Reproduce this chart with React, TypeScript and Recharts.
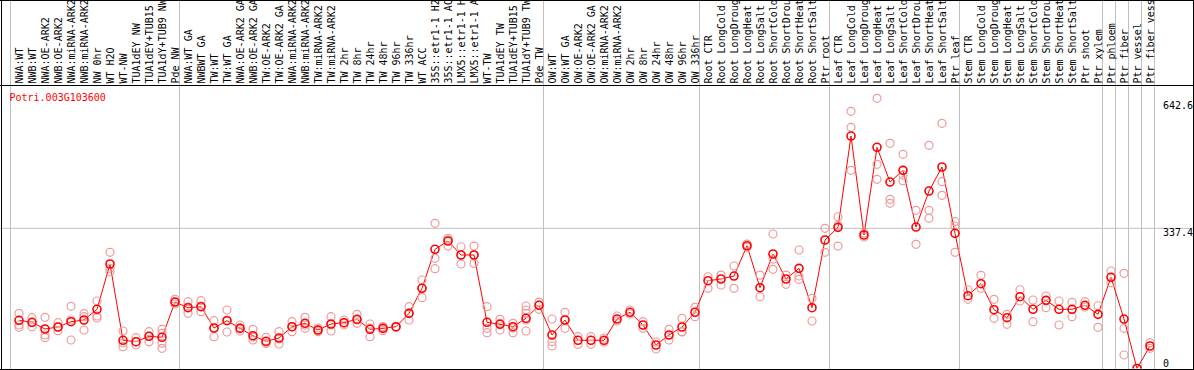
import React from "react";
import { ComposedChart, Line, Scatter, XAxis, YAxis, ReferenceLine } from "recharts";

const categories = [
  "NWA:WT", "NWB:WT", "NWA:OE-ARK2", "NWB:OE-ARK2", "NWA:miRNA-ARK2", "NWB:miRNA-ARK2", "NW 0hr", "WT H2O", "WT-NW",
  "TUA1dEY NW", "TUA1dEY+TUB15", "TUA1dY+TUB9 NW", "Pde NW",
  "NWA:WT GA", "NWBWT GA", "TW:WT", "TW:WT GA", "NWA:OE-ARK2 GA", "NWB:OE-ARK2 GA", "TW:OE-ARK2", "TW:OE-ARK2 GA",
  "NWA:miRNA-ARK2", "NWB:miRNA-ARK2", "TW:miRNA-ARK2", "TW:miRNA-ARK2", "TW 2hr", "TW 8hr", "TW 24hr", "TW 48hr",
  "TW 96hr", "TW 336hr", "WT ACC", "35S::etr1-1 H2O", "35S::etr1-1 ACC", "LMX5::etr1-1 H2O", "LMX5::etr1-1 ACC",
  "WT-TW", "TUA1dEY TW", "TUA1dEY+TUB15", "TUA1dY+TUB9 TW", "Pde TW",
  "OW:WT", "OW:WT GA", "OW:OE-ARK2", "OW:OE-ARK2 GA", "OW:miRNA-ARK2", "OW:miRNA-ARK2", "OW 2hr", "OW 8hr",
  "OW 24hr", "OW 48hr", "OW 96hr", "OW 336hr",
  "Root CTR", "Root LongCold", "Root LongDrought", "Root LongHeat", "Root LongSalt", "Root ShortCold",
  "Root ShortDrought", "Root ShortHeat", "Root ShortSalt", "Ptr root",
  "Leaf CTR", "Leaf LongCold", "Leaf LongDrought", "Leaf LongHeat", "Leaf LongSalt", "Leaf ShortCold",
  "Leaf ShortDrought", "Leaf ShortHeat", "Leaf ShortSalt", "Ptr leaf",
  "Stem CTR", "Stem LongCold", "Stem LongDrought", "Stem LongHeat", "Stem LongSalt", "Stem ShortCold",
  "Stem ShortDrought", "Stem ShortHeat", "Stem ShortSalt", "Ptr shoot",
  "Ptr xylem", "Ptr phloem", "Ptr fiber", "Ptr vessel", "Ptr fiber vessel",
];

const meanValues = [
  116.0, 111.2, 95.1, 99.9, 112.6, 116.7, 142.5, 251.5, 67.9, 64.5, 77.5, 75.1, 160.0,
  146.3, 148.7, 97.5, 115.0, 96.7, 78.9, 65.5, 73.4, 100.6, 108.8, 92.7, 107.1, 110.2, 118.4, 94.3, 96.7,
  100.6, 132.8, 193.0, 286.9, 306.9, 273.2, 273.2, 111.2, 106.4, 100.6, 120.8, 152.1,
  80.6, 116.7, 67.9, 67.9, 67.9, 119.1, 135.3, 104.7, 56.6, 80.6, 99.9, 135.3,
  211.3, 215.4, 222.6, 295.5, 194.5, 275.6, 215.4, 241.1, 146.3, 309.3,
  339.8, 559.6, 321.3, 532.4, 448.8, 477.0, 340.5, 427.2, 485.0, 325.4,
  175.2, 204.1, 141.5, 122.3, 172.8, 142.5, 164.1, 142.5, 142.5, 152.1,
  130.4, 219.5, 119.1, 0, 54.2,
];

const replicateValues: number[][] = [
  [132.7, 104.7, 99.2], [122.3, 110.2, 100.6], [123.2, 80.6, 74.1], [110.2, 91.0, 99.9], [149.7, 68.6, 116.7],
  [131.9, 92.7, 124.7], [162.5, 126.4, 121.5], [279.7, 241.1, 233.0], [90.3, 52.5, 61.4], [74.1, 56.6, 64.5],
  [88.6, 64.5, 77.5], [94.3, 84.7, 60.6, 48.6], [166.5, 155.2, 160.0],
  [160.8, 132.8, 148.0], [163.2, 136.7, 150.4], [115.0, 76.5, 97.5], [140.8, 87.8, 116.7], [104.7, 90.3, 97.5],
  [94.3, 68.6, 75.8], [75.1, 60.6, 61.0], [88.6, 59.0, 71.0], [112.6, 88.6, 99.9], [123.2, 96.7, 104.7],
  [97.5, 88.6, 92.7], [124.7, 90.3, 104.7], [116.7, 104.7, 109.5], [130.4, 108.8, 116.7], [107.1, 76.5, 97.5],
  [101.0, 91.0, 97.5], [100.6, 98.7], [148.7, 116.7, 133.6], [213.0, 170.4, 193.7], [349.5, 265.2, 240.2],
  [313.4, 294.8, 309.3], [293.1, 251.5, 273.2], [294.8, 253.2, 273.2], [148.7, 96.7, 86.2], [118.4, 92.7, 109.5],
  [108.8, 86.2, 97.5], [150.4, 140.8, 132.4, 116.7, 90.3], [160.0, 142.5, 152.8],
  [119.1, 64.5, 54.2], [135.3, 96.7, 116.7], [76.5, 58.2], [76.5, 58.2], [73.4, 63.8], [126.4, 114.3],
  [140.8, 131.2], [112.6, 96.7], [63.8, 46.9], [94.3, 68.6], [120.8, 88.6, 87.8], [147.3, 124.7],
  [220.9, 193.0], [225.0, 201.0], [246.7, 193.0], [299.6, 292.4], [225.0, 172.8], [323.7, 238.7, 263.5],
  [225.0, 202.6], [285.2, 222.6, 214.7], [169.0, 114.3], [337.4, 279.7],
  [365.3, 294.8, 345.0], [619.0, 580.5, 477.0], [326.0, 316.5], [650.3, 491.4, 455.3], [542.0, 407.2, 397.6],
  [515.5, 452.0, 465.7], [380.7, 298.9], [537.2, 380.7, 361.5], [590.1, 449.6, 416.8], [353.3, 343.0, 279.7],
  [188.9, 166.5], [224.3, 193.0], [166.5, 120.8], [130.4, 106.4], [189.6, 162.5], [164.9, 112.6],
  [174.5, 146.3], [162.5, 104.7], [159.3, 124.7], [160.8, 148.0],
  [151.1, 99.2], [234.7, 206.5], [229.1, 96.7, 32.5], [0], [62.1, 48.6],
];

const groupBoundaries = [0, 13, 41, 53, 63, 73, 84, 85, 86, 87, 88];
const yTicks = [0, 337.4, 642.6];
const geneTitle = "Potri.003G103600";

const OFFSET = 8.5 / 13;
const FONT = "'DejaVu Sans Mono', monospace";

const data = categories.map((label, i) => ({ i, label, mean: meanValues[i] }));
const repData = replicateValues.flatMap((arr, i) => arr.map((v) => ({ i, v })));

const CategoryTick = (props: any) => {
  const { x, payload } = props;
  return (
    <text
      x={0}
      y={0}
      dy="0.35em"
      transform={`translate(${x},83.5) rotate(-90)`}
      fontFamily={FONT}
      fontSize={10}
      fill="#000"
      textAnchor="start"
    >
      {categories[payload.value]}
    </text>
  );
};

const ValueTick = (props: any) => {
  const { y, payload } = props;
  const base = Math.min(y + 7.5, 366.5);
  return (
    <text x={1163} y={base} fontFamily={FONT} fontSize={10} fill="#000" textAnchor="start">
      {String(payload.value)}
    </text>
  );
};

const RepDot = (p: any) => (
  <circle cx={p.cx} cy={p.cy} r={4} fill="none" stroke="#f09a9a" strokeWidth={1.2} />
);

export default function App() {
  return (
    <div style={{ position: "absolute", left: 0, top: 0, width: 1194, height: 370, background: "#fff" }}>
      <ComposedChart width={1194} height={370} data={data} margin={{ top: 0, right: 0, bottom: 1.5, left: 10.5 }}>
        <XAxis
          dataKey="i"
          type="number"
          orientation="top"
          height={86}
          domain={[-OFFSET, 88 - OFFSET]}
          ticks={categories.map((_, i) => i)}
          interval={0}
          axisLine={false}
          tickLine={false}
          tick={<CategoryTick />}
          allowDataOverflow
        />
        <YAxis
          type="number"
          orientation="right"
          width={39.5}
          domain={[0, 680]}
          ticks={yTicks}
          interval={0}
          axisLine={false}
          tickLine={false}
          tick={<ValueTick />}
          allowDataOverflow
        />
        {groupBoundaries.map((b) => (
          <ReferenceLine
            key={"sep" + b}
            segment={[{ x: b - OFFSET, y: -10 }, { x: b - OFFSET, y: 900 }]}
            stroke="#c0c0c0"
            strokeWidth={1}
            ifOverflow="visible"
          />
        ))}
        <ReferenceLine
          segment={[{ x: -3, y: 337.4 }, { x: 95, y: 337.4 }]}
          stroke="#c0c0c0"
          strokeWidth={1}
          ifOverflow="visible"
        />
        <Scatter data={repData} dataKey="v" shape={RepDot} isAnimationActive={false} />
        <Line
          dataKey="mean"
          stroke="#ff0000"
          strokeWidth={1}
          dot={{ r: 4, stroke: "#ff0000", strokeWidth: 1.6, fill: "none" }}
          activeDot={false}
          isAnimationActive={false}
        />
      </ComposedChart>
      <svg width={1194} height={370} style={{ position: "absolute", left: 0, top: 0, pointerEvents: "none" }}>
        <line x1={0} y1={0.5} x2={1194} y2={0.5} stroke="#000" />
        <line x1={0} y1={85.5} x2={1194} y2={85.5} stroke="#000" />
        <line x1={0} y1={369.5} x2={1194} y2={369.5} stroke="#000" />
        <line x1={1.5} y1={0} x2={1.5} y2={370} stroke="#000" />
        <line x1={1193.5} y1={0} x2={1193.5} y2={370} stroke="#000" />
        <text x={9.5} y={100.5} fontFamily={FONT} fontSize={10} fill="#ff0000">{geneTitle}</text>
      </svg>
    </div>
  );
}
